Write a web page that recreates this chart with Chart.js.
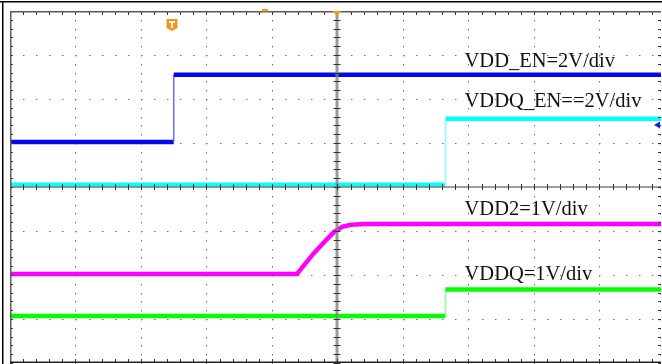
<!DOCTYPE html>
<html>
<head>
<meta charset="utf-8">
<script src="https://cdn.jsdelivr.net/npm/chart.js@4.4.1/dist/chart.umd.min.js"></script>
<style>
  html, body { margin: 0; padding: 0; background: #fff; overflow: hidden; }
  canvas { display: block; }
</style>
</head>
<body>
<canvas id="scope" width="662" height="364"></canvas>
<script>
// scope screen: 10 time divisions (x), 8 vertical divisions (y), values in divisions
const X_MIN = -5;
const X_MAX = 4.94;
const Y_MIN = -4;
const Y_MAX = 4;

// VDD_EN (blue)
const vddEnX = [-5, -2.5, -2.5, 5];
const vddEnY = [1.02, 1.02, 2.55, 2.55];

// VDDQ_EN (cyan)
const vddqEnX = [-5, 1.65, 1.65, 5];
const vddqEnY = [0.05, 0.05, 1.55, 1.55];

// VDD2 (magenta) - soft ramp
const vdd2X = [-5, -0.62, -0.37, -0.17, -0.05, 0.08, 0.21, 0.41, 5];
const vdd2Y = [-1.98, -1.98, -1.52, -1.2, -1.02, -0.9, -0.86, -0.84, -0.84];

// VDDQ (green)
const vddqX = [-5, 1.65, 1.65, 5];
const vddqY = [-2.93, -2.93, -2.33, -2.33];

// channel labels
const labelTexts = ['VDD_EN=2V/div', 'VDDQ_EN==2V/div', 'VDD2=1V/div', 'VDDQ=1V/div'];
const labelX = 1.94;
const labelY = [2.73, 1.825, -0.63, -2.11];

function toPoints(xs, ys) {
  return xs.map((x, i) => ({ x: x, y: ys[i] }));
}

// thin, lighter vertical edge on the steps
function stepSegment(edgeColor) {
  return {
    borderWidth: c => (c.p0.parsed.x === c.p1.parsed.x ? 1.5 : undefined),
    borderColor: c => (c.p0.parsed.x === c.p1.parsed.x ? edgeColor : undefined)
  };
}

function trace(label, xs, ys, color, edgeColor) {
  return {
    label,
    data: toPoints(xs, ys),
    borderColor: color,
    borderWidth: 4.5,
    pointRadius: 0,
    tension: 0,
    fill: false,
    segment: stepSegment(edgeColor)
  };
}

// grid, frame, center axes and markers
const scopePlugin = {
  id: 'scopeScreen',
  beforeDatasetsDraw(chart) {
    const ctx = chart.ctx;
    const a = chart.chartArea;
    const xs = chart.scales.x;
    const ys = chart.scales.y;
    ctx.save();
    ctx.fillStyle = '#6e6e6e';
    // vertical dotted lines
    for (let i = -4; i <= 4; i++) {
      if (i === 0) continue;
      const px = Math.round(xs.getPixelForValue(i));
      for (let k = Y_MIN * 5; k <= Y_MAX * 5; k++) {
        const py = Math.round(ys.getPixelForValue(k / 5));
        ctx.fillRect(px, py, 1, 1.5);
      }
    }
    // right edge dotted
    for (let k = Y_MIN * 5; k <= Y_MAX * 5; k++) {
      const py = Math.round(ys.getPixelForValue(k / 5));
      ctx.fillRect(a.right - 1, py, 1, 1.5);
    }
    // horizontal dotted lines
    for (let j = -3; j <= 3; j++) {
      if (j === 0) continue;
      const py = Math.round(ys.getPixelForValue(j));
      for (let k = X_MIN * 5; k <= 25; k++) {
        const px = Math.round(xs.getPixelForValue(k / 5));
        if (px > a.right) break;
        ctx.fillRect(px, py, 1.5, 1);
      }
    }
    ctx.restore();
  },
  afterDatasetsDraw(chart) {
    const ctx = chart.ctx;
    const a = chart.chartArea;
    const xs = chart.scales.x;
    const ys = chart.scales.y;
    const cx = Math.round(xs.getPixelForValue(0));
    const cy = Math.round(ys.getPixelForValue(0));
    ctx.save();

    // center axes
    ctx.fillStyle = 'rgba(130,130,130,0.8)';
    ctx.fillRect(cx - 1.5, a.top, 3, a.bottom - a.top);
    ctx.fillRect(a.left, cy - 1, a.right - a.left, 2);
    ctx.fillStyle = '#333';
    for (let k = Y_MIN * 5; k <= Y_MAX * 5; k++) {
      const py = Math.round(ys.getPixelForValue(k / 5));
      ctx.fillRect(cx - 3.5, py, 7, 1);
      ctx.fillRect(a.left, py, 3, 1);
      ctx.fillRect(a.right - 3, py, 3, 1);
    }
    for (let k = X_MIN * 5; k <= 25; k++) {
      const px = Math.round(xs.getPixelForValue(k / 5));
      if (px > a.right) break;
      ctx.fillRect(px, cy - 3, 1, 6);
      ctx.fillRect(px, a.top, 1, 4);
      ctx.fillRect(px, a.bottom - 4, 1, 4);
    }

    // plot border
    ctx.fillStyle = '#5a5a5a';
    ctx.fillRect(a.left, a.top, a.right - a.left, 1.5);
    ctx.fillRect(a.left, a.top, 1.5, a.bottom - a.top);
    ctx.fillStyle = '#222';
    ctx.fillRect(a.left, a.bottom - 1.5, a.right - a.left, 1.5);

    // outer frame
    ctx.fillStyle = '#000';
    ctx.fillRect(0, 1, chart.width, 1.5);
    ctx.fillRect(2, 1, 1.5, chart.height);

    // trigger time marker (down triangle) and trigger badge
    ctx.fillStyle = '#f7941d';
    ctx.beginPath();
    ctx.moveTo(cx - 4.5, a.top);
    ctx.lineTo(cx + 4.5, a.top);
    ctx.lineTo(cx, a.top + 5);
    ctx.closePath();
    ctx.fill();
    ctx.fillRect(262, 9, 6, 2.5);

    const tx = Math.round(xs.getPixelForValue(-2.52));
    ctx.beginPath();
    ctx.moveTo(tx - 5.5, 19);
    ctx.lineTo(tx + 5.5, 19);
    ctx.lineTo(tx + 5.5, 28);
    ctx.lineTo(tx, 31);
    ctx.lineTo(tx - 5.5, 28);
    ctx.closePath();
    ctx.fill();
    ctx.fillStyle = '#fff';
    ctx.fillRect(tx - 3, 21, 6, 1.8);
    ctx.fillRect(tx - 0.9, 21, 1.8, 7);

    // channel offset marker on right edge
    ctx.fillStyle = '#1a1aff';
    const my = Math.round(ys.getPixelForValue(1.42));
    ctx.beginPath();
    ctx.moveTo(a.right - 7, my);
    ctx.lineTo(a.right - 1, my - 3.5);
    ctx.lineTo(a.right - 1, my + 3.5);
    ctx.closePath();
    ctx.fill();

    // channel labels
    ctx.fillStyle = '#111';
    ctx.font = '20.5px "Liberation Serif", "DejaVu Serif", serif';
    ctx.textBaseline = 'alphabetic';
    ctx.textAlign = 'left';
    labelTexts.forEach((t, i) => {
      ctx.fillText(t, xs.getPixelForValue(labelX), ys.getPixelForValue(labelY[i]));
    });
    ctx.restore();
  }
};

const chart = new Chart(document.getElementById('scope').getContext('2d'), {
  type: 'line',
  data: {
    datasets: [
      trace('VDD_EN', vddEnX, vddEnY, '#0505f0', '#6a6aff'),
      trace('VDDQ_EN', vddqEnX, vddqEnY, '#00ffff', '#8affff'),
      trace('VDD2', vdd2X, vdd2Y, '#ff00ff', '#ff00ff'),
      trace('VDDQ', vddqX, vddqY, '#00ff00', '#90ff90')
    ]
  },
  options: {
    responsive: false,
    animation: false,
    layout: { padding: { left: 10, top: 11, right: 1, bottom: 1 } },
    plugins: { legend: { display: false }, tooltip: { enabled: false } },
    scales: {
      x: { type: 'linear', min: X_MIN, max: X_MAX, display: false },
      y: { type: 'linear', min: Y_MIN, max: Y_MAX, display: false }
    }
  },
  plugins: [scopePlugin]
});
</script>
</body>
</html>
